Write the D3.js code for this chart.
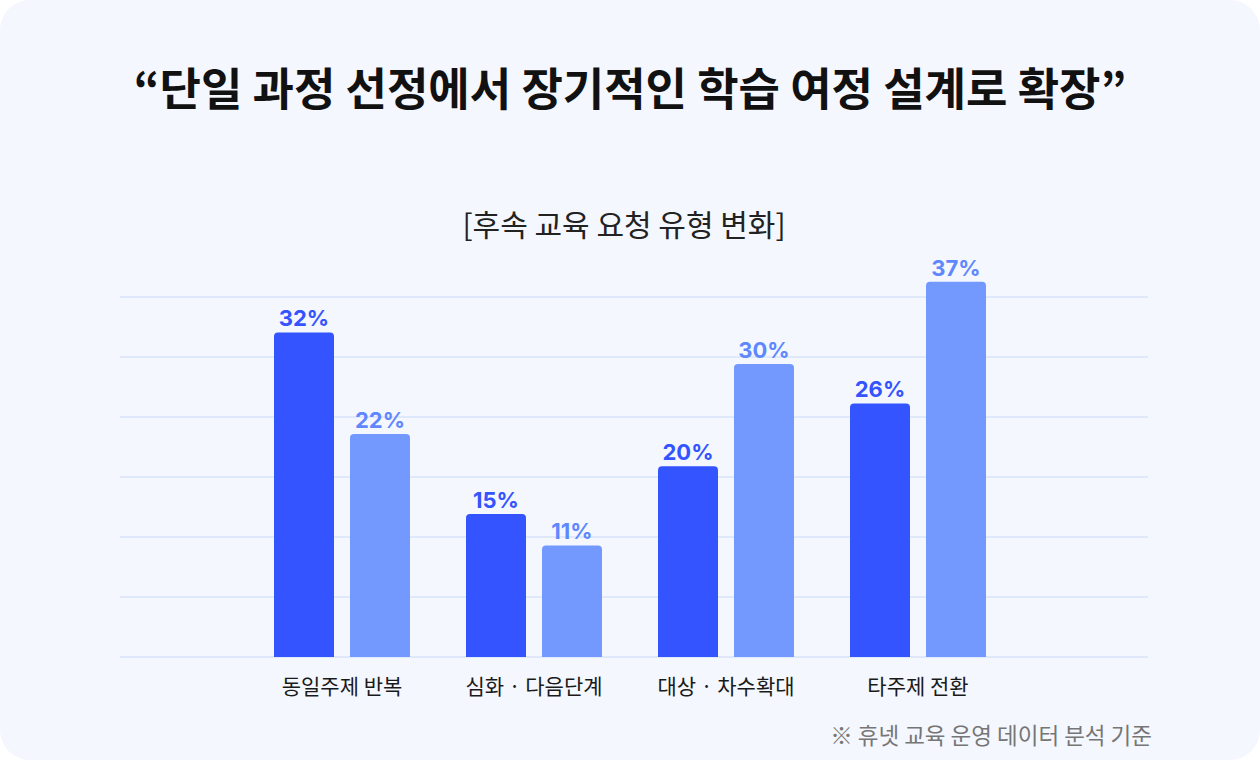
<!DOCTYPE html>
<html><head><meta charset="utf-8">
<script src="https://cdn.jsdelivr.net/npm/d3@7"></script>
<style>
html,body{margin:0;padding:0;background:#ffffff;}
svg{display:block;}
</style></head>
<body>
<svg id="chart" width="1260" height="760"></svg>
<script>
const title = "“단일 과정 선정에서 장기적인 학습 여정 설계로 확장”";
const subtitle = "[후속 교육 요청 유형 변화]";
const footnote = "※ 휴넷 교육 운영 데이터 분석 기준";
const categories = ["동일주제 반복", "심화 · 다음단계", "대상 · 차수확대", "타주제 전환"];
const seriesNames = ["A", "B"];
// bar heights
const seriesA = [32, 14.1, 18.8, 25];
const seriesB = [22, 11, 28.9, 37];
// printed value labels
const labelsA = ["32%", "15%", "20%", "26%"];
const labelsB = ["22%", "11%", "30%", "37%"];
const colors = ["#3354ff", "#7399ff"];
const labelColors = ["#3354ff", "#5f88ff"];

const svg = d3.select("#chart");
const W = 1260, H = 760;
svg.append("rect").attr("x",0).attr("y",0).attr("width",W).attr("height",H)
  .attr("rx",30).attr("fill","#f4f7fe");

const font = "Inter, 'Noto Sans CJK KR', sans-serif";
const krFont = "'Noto Sans CJK KR', 'Noto Sans', sans-serif";

svg.append("text").attr("x",630).attr("y",106).attr("text-anchor","middle")
  .attr("font-family",krFont).attr("font-weight",700).attr("font-size",45)
  .attr("fill","#111").text(title);
svg.append("text").attr("x",624).attr("y",236).attr("text-anchor","middle")
  .attr("font-family",krFont).attr("font-weight",400).attr("font-size",30)
  .attr("fill","#222").text(subtitle);

const yMaxGrid = 35.5;
const y = d3.scaleLinear().domain([0, yMaxGrid]).range([657, 297]);
const x0 = d3.scaleBand().domain(categories).range([246, 1014]).paddingInner(0).paddingOuter(0);
const x1 = d3.scaleBand().domain(seriesNames).range([28, 164]).paddingInner(16/76).paddingOuter(0);

const gridVals = d3.range(7).map(i => yMaxGrid * i / 6);
svg.append("g").selectAll("line").data(gridVals).join("line")
  .attr("x1",120).attr("x2",1148)
  .attr("y1",d=>Math.round(y(d))).attr("y2",d=>Math.round(y(d)))
  .attr("stroke","#e0e9fb").attr("stroke-width",2);

const data = categories.map((c,i)=>({cat:c, vals:[seriesA[i], seriesB[i]], labels:[labelsA[i], labelsB[i]]}));
const groups = svg.append("g").selectAll("g").data(data).join("g")
  .attr("transform", d=>`translate(${x0(d.cat)},0)`);

function topRounded(x, yTop, w, h, r){
  return `M${x},${yTop+h}V${yTop+r}Q${x},${yTop} ${x+r},${yTop}H${x+w-r}Q${x+w},${yTop} ${x+w},${yTop+r}V${yTop+h}Z`;
}
const items = d => d.vals.map((v,j)=>({v, s:seriesNames[j], j, label:d.labels[j]}));
groups.selectAll("path").data(items).join("path")
  .attr("d", d=>topRounded(x1(d.s), y(d.v), x1.bandwidth(), y(0)-y(d.v), 4))
  .attr("fill", d=>colors[d.j]);
groups.selectAll("text.val").data(items).join("text")
  .attr("class","val")
  .attr("x", d=>x1(d.s)+x1.bandwidth()/2).attr("y", d=>y(d.v)-6)
  .attr("text-anchor","middle").attr("font-family",font).attr("font-weight",700)
  .attr("font-size",22).attr("fill", d=>labelColors[d.j]).text(d=>d.label);

const xAxis = d3.axisBottom(x0).tickSize(0).tickPadding(0);
const ax = svg.append("g").attr("transform","translate(0,694)").call(xAxis);
ax.select(".domain").remove();
ax.selectAll("text").attr("dy",0).attr("font-family",krFont).attr("font-size",21).attr("fill","#1a1a1a");

svg.append("text").attr("x",1152).attr("y",744).attr("text-anchor","end")
  .attr("font-family",krFont).attr("font-size",22.5).attr("fill","#767676").text(footnote);
</script>
</body></html>
